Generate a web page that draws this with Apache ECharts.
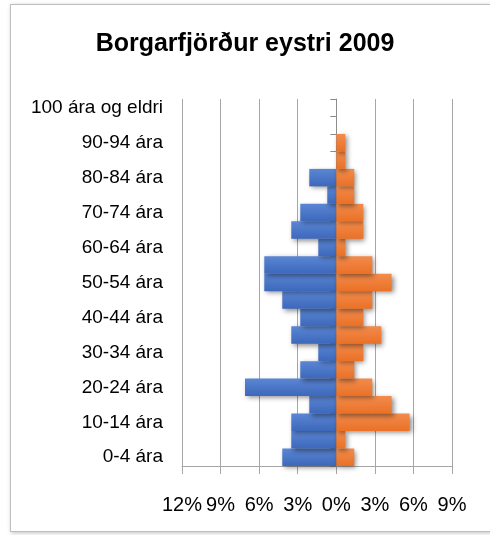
<!DOCTYPE html>
<html>
<head>
<meta charset="utf-8">
<script src="https://cdn.jsdelivr.net/npm/echarts@6/dist/echarts.min.js"></script>
<style>
  html, body { margin: 0; padding: 0; background: #fff; }
  #frame {
    position: absolute; left: 10px; top: 4px; width: 495px; height: 528px;
    border: 1px solid #bfbfbf; box-shadow: 1px 1px 4px rgba(0,0,0,0.25);
    box-sizing: border-box;
  }
  #chart { position: absolute; left: 0; top: 0; width: 490px; height: 535px; }
</style>
</head>
<body>
<div id="frame"></div>
<div id="chart"></div>
<script>
// aldurshópar
const ageGroups = ['0-4 ára', '5-9 ára', '10-14 ára', '15-19 ára', '20-24 ára', '25-29 ára',
  '30-34 ára', '35-39 ára', '40-44 ára', '45-49 ára', '50-54 ára', '55-59 ára', '60-64 ára',
  '65-69 ára', '70-74 ára', '75-79 ára', '80-84 ára', '85-89 ára', '90-94 ára', '95-99 ára',
  '100 ára og eldri'];
// karlar (%), teiknaðir til vinstri
const males = [4.2, 3.5, 3.5, 2.1, 7.1, 2.8, 1.4, 3.5, 2.8, 4.2, 5.6, 5.6, 1.4, 3.5, 2.8, 0.7, 2.1, 0, 0, 0, 0];
// konur (%)
const females = [1.4, 0.7, 5.7, 4.3, 2.8, 1.4, 2.1, 3.5, 2.1, 2.8, 4.3, 2.8, 0.7, 2.1, 2.1, 1.4, 1.4, 0.7, 0.7, 0, 0];
const xMin = -12, xMax = 9, xStep = 3;

const chart = echarts.init(document.getElementById('chart'));
const font = 'Liberation Sans, Arial, sans-serif';
const grey = '#a6a6a6';

function grad(top, bottom) {
  return new echarts.graphic.LinearGradient(0, 0, 0, 1, [
    {offset: 0, color: top}, {offset: 1, color: bottom}
  ]);
}
const shadow = {shadowBlur: 5, shadowColor: 'rgba(0,0,0,0.45)', shadowOffsetX: 2, shadowOffsetY: 2};

chart.setOption({
  animation: false,
  title: {
    text: 'Borgarfjörður eystri 2009',
    left: 'center',
    top: 27,
    textStyle: {fontFamily: font, fontSize: 25, fontWeight: 'bold', color: '#000'}
  },
  grid: {left: 182, right: 38, top: 99, bottom: 69},
  xAxis: {
    type: 'value',
    min: xMin, max: xMax, interval: xStep,
    axisLine: {show: true, lineStyle: {color: grey}},
    axisTick: {show: true, length: 8, lineStyle: {color: grey}},
    splitLine: {show: true, lineStyle: {color: grey, width: 1}},
    axisLabel: {
      margin: 29,
      fontFamily: font, fontSize: 20, color: '#000',
      formatter: v => Math.abs(v) + '%'
    }
  },
  yAxis: [
    {
      type: 'category',
      data: ageGroups,
      axisLine: {show: false, onZero: false},
      axisTick: {show: false},
      axisLabel: {interval: 1, margin: 19, fontFamily: font, fontSize: 19, color: '#000'}
    },
    {
      type: 'category',
      data: ageGroups,
      position: 'left',
      axisLine: {show: true, onZero: true, lineStyle: {color: '#8c8c8c'}},
      axisTick: {show: true, interval: 0, length: 6, lineStyle: {color: '#8c8c8c'}},
      axisLabel: {show: false}
    }
  ],
  series: [
    {
      name: 'Karlar',
      type: 'bar',
      stack: 'p',
      barCategoryGap: '0%',
      data: males.map(v => -v),
      itemStyle: Object.assign({color: grad('#5a86d4', '#3d68bb')}, shadow)
    },
    {
      name: 'Konur',
      type: 'bar',
      stack: 'p',
      barCategoryGap: '0%',
      data: females,
      itemStyle: Object.assign({color: grad('#f28b4c', '#ea7126')}, shadow)
    }
  ]
});
</script>
</body>
</html>
